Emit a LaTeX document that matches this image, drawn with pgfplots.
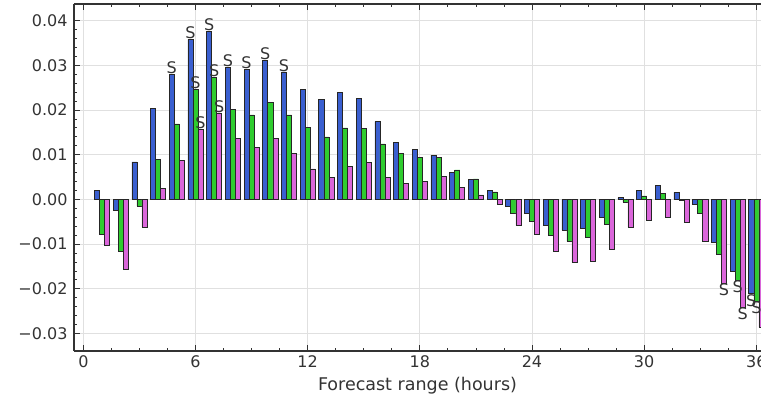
\documentclass[border=0pt]{standalone}
\usepackage{fontspec}
\setmainfont{DejaVu Sans}
\usepackage{pgfplots}
\usepackage{pgfplotstable}
\pgfplotsset{compat=1.18}
\definecolor{cblue}{HTML}{3A5FD0}
\definecolor{cgreen}{HTML}{2FCC2F}
\definecolor{cmag}{HTML}{DA66DA}
\definecolor{axgray}{HTML}{333333}

\pgfplotstableread{
h B G M
1 0.0020 -0.0077 -0.0103
2 -0.0025 -0.0116 -0.0156
3 0.0084 -0.0015 -0.0062
4 0.0204 0.0090 0.0024
5 0.0279 0.0169 0.0088
6 0.0358 0.0246 0.0157
7 0.0375 0.0273 0.0192
8 0.0296 0.0201 0.0137
9 0.0291 0.0189 0.0117
10 0.0310 0.0217 0.0136
11 0.0285 0.0189 0.0103
12 0.0246 0.0161 0.0068
13 0.0224 0.0140 0.0049
14 0.0240 0.0160 0.0073
15 0.0226 0.0158 0.0082
16 0.0174 0.0124 0.0050
17 0.0128 0.0102 0.0036
18 0.0111 0.0094 0.0040
19 0.0099 0.0094 0.0051
20 0.0061 0.0066 0.0027
21 0.0045 0.0046 0.0010
22 0.0021 0.0017 -0.0012
23 -0.0015 -0.0030 -0.0058
24 -0.0032 -0.0050 -0.0077
25 -0.0057 -0.0081 -0.0115
26 -0.0068 -0.0094 -0.0141
27 -0.0064 -0.0085 -0.0139
28 -0.0040 -0.0055 -0.0112
29 0.0004 -0.0006 -0.0062
30 0.0021 0.0008 -0.0046
31 0.0031 0.0013 -0.0039
32 0.0016 -0.0003 -0.0052
33 -0.0011 -0.0030 -0.0094
34 -0.0096 -0.0122 -0.0187
35 -0.0161 -0.0181 -0.0241
36 -0.0211 -0.0228 -0.0285
}\data

% significance markers: x position (bar centre), bar end value
\pgfplotstableread{
x y
4.73 0.0279
5.73 0.0358
6.00 0.0246
6.27 0.0157
6.73 0.0375
7.00 0.0273
7.27 0.0192
7.73 0.0296
8.73 0.0291
9.73 0.0310
10.73 0.0285
}\sigpos

\pgfplotstableread{
x y
34.27 -0.0187
35.00 -0.0181
35.27 -0.0241
35.73 -0.0211
36.00 -0.0228
36.27 -0.0285
}\signeg

\begin{document}
\begin{tikzpicture}
\begin{axis}[
  scale only axis,
  width=687pt, height=347pt,
  xmin=-0.5, xmax=36.25,
  ymin=-0.0339, ymax=0.0437,
  axis x line*=box, axis y line*=left,
  xtick={0,6,12,18,24,30,36},
  minor x tick num=3,
  ytick={-0.03,-0.02,-0.01,0,0.01,0.02,0.03,0.04},
  yticklabels={−0.03,−0.02,−0.01,0.00,0.01,0.02,0.03,0.04},
  minor y tick num=4,
  tick align=inside,
  major tick length=6pt, minor tick length=3pt,
  grid=major,
  major grid style={color=black!12, line width=0.8pt},
  axis line style={line width=1.4pt, color=axgray},
  tick style={color=axgray, line width=0.8pt},
  /pgf/number format/assume math mode=true,
  ticklabel style={font=\fontsize{16}{19}\selectfont, color=axgray},
  yticklabel style={xshift=-3pt},
  xticklabel style={yshift=-1pt},
  xlabel={Forecast range (hours)},
  xlabel style={font=\fontsize{17.5}{20}\selectfont, color=axgray, yshift=-3pt},
  clip=true,
]
\addplot[ybar, bar width=0.27, bar shift=-0.27, fill=cblue, draw=black!85, line width=0.6pt] table[x=h, y=B] {\data};
\addplot[ybar, bar width=0.27, bar shift=0, fill=cgreen, draw=black!85, line width=0.6pt] table[x=h, y=G] {\data};
\addplot[ybar, bar width=0.27, bar shift=0.27, fill=cmag, draw=black!85, line width=0.6pt] table[x=h, y=M] {\data};

\addplot[only marks, mark=none,
  nodes near coords={S},
  every node near coord/.append style={anchor=south, inner sep=0.5pt, font=\fontsize{16}{19}\selectfont, text=axgray}]
  table[x=x, y=y] {\sigpos};
\addplot[only marks, mark=none,
  nodes near coords={S},
  every node near coord/.append style={anchor=north, inner sep=0.5pt, font=\fontsize{16}{19}\selectfont, text=axgray}]
  table[x=x, y=y] {\signeg};
\end{axis}
\pgfresetboundingbox
\path[use as bounding box] ([xshift=-74pt,yshift=-44pt]current axis.south west) rectangle ([yshift=4pt]current axis.north east);
\end{tikzpicture}
\end{document}
